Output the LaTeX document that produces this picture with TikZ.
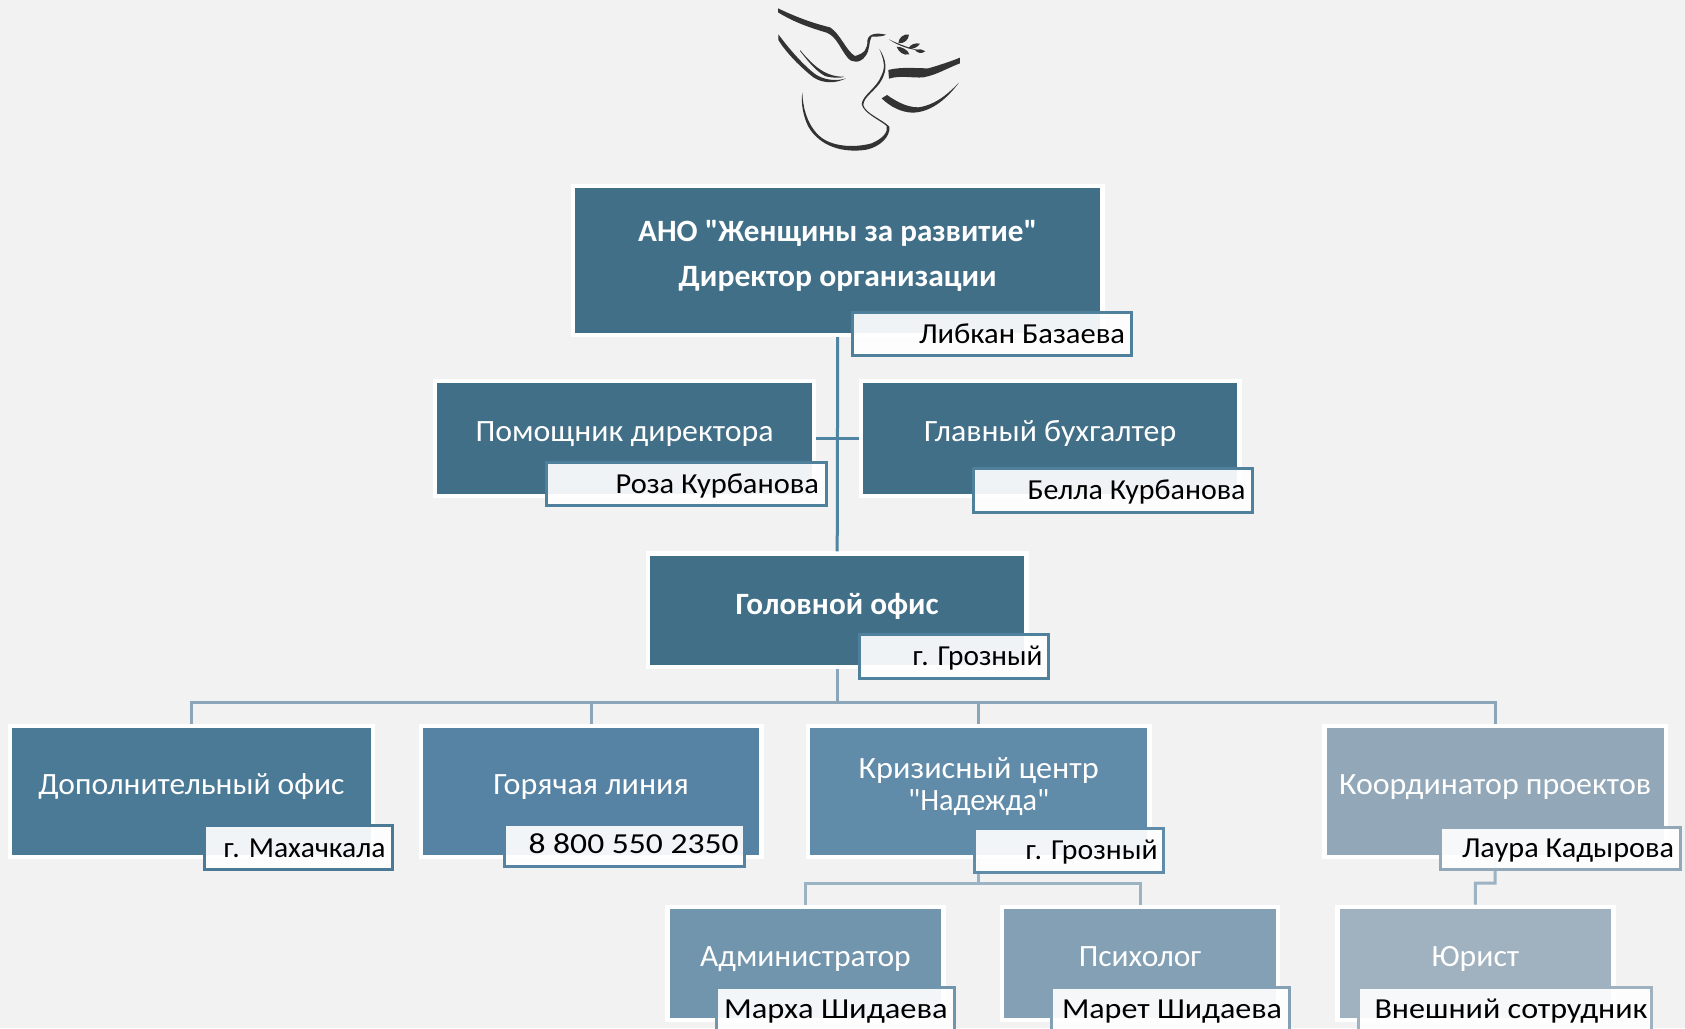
\documentclass[tikz,border=0pt]{standalone}
\usepackage{fontspec}
\usepackage{graphicx}
\newfontfamily\bodyf{Carlito}
\definecolor{bgc}{HTML}{F2F2F2}
\definecolor{cA}{HTML}{416F88}
\definecolor{cB}{HTML}{4B7A97}
\definecolor{cC}{HTML}{5683A3}
\definecolor{cD}{HTML}{608BA9}
\definecolor{cE}{HTML}{92A8B8}
\definecolor{cF}{HTML}{7295AE}
\definecolor{cG}{HTML}{84A0B4}
\definecolor{cH}{HTML}{A0B2C0}
\definecolor{lA}{HTML}{4F809C}
\definecolor{lnA}{HTML}{4F84A3}
\definecolor{lnB}{HTML}{8BA6B8}
\definecolor{lnC}{HTML}{9BB3C3}
\definecolor{ink}{HTML}{333333}
\tikzset{
  boxn/.style={rectangle,draw=white,line width=4.2pt,inner sep=0pt,text=white,font=\bodyf\fontsize{31}{36}\selectfont},
  lab/.style={rectangle,line width=3pt,fill=white,fill opacity=.92,text opacity=1,draw opacity=1,inner sep=0pt,text=black,font=\bodyf\fontsize{29}{34}\selectfont},
  conA/.style={draw=lnA,line width=3pt},
  conB/.style={draw=lnB,line width=3pt},
  conC/.style={draw=lnC,line width=3pt},
  bird/.style={fill=ink,draw=none}
}
\newcommand\fitw[2]{\resizebox{#1pt}{\height}{#2}}
% name x1 y1 x2 y2 colour content
\newcommand\bx[7]{%
  \pgfmathsetmacro\cxx{(#2+#4)/2+0.2}\pgfmathsetmacro\cyy{(#3+#5)/2+0.4}%
  \pgfmathsetmacro\ww{#4-#2+4.4}\pgfmathsetmacro\hh{#5-#3+5}%
  \node[boxn,fill=#6,minimum width=\ww pt,minimum height=\hh pt] (#1) at (\cxx,\cyy) {#7};}
% baseline, width, text: centred line inside a box
\newcommand\cl[3]{\pgfmathsetmacro\rr{\cyy-#1-1}\makebox[0pt]{\raisebox{\rr pt}[0pt][0pt]{\fitw{#2}{#3}}}}
% name x1 y1 x2 y2 colour xright baseline content
\newcommand\lb[9]{%
  \pgfmathsetmacro\cxx{(#2+#4)/2+0.1}\pgfmathsetmacro\cyy{(#3+#5)/2+0.3}%
  \pgfmathsetmacro\ww{#4-#2-1}\pgfmathsetmacro\hh{#5-#3-1.6}%
  \pgfmathsetmacro\dxx{#7+1-\cxx}\pgfmathsetmacro\rr{\cyy-#8-1}%
  \node[lab,draw=#6,minimum width=\ww pt,minimum height=\hh pt] (#1) at (\cxx,\cyy)
    {\raisebox{\rr pt}[0pt][0pt]{\makebox[0pt][l]{\hspace*{\dxx pt}\makebox[0pt][r]{#9}}}};}
\begin{document}
\begin{tikzpicture}[x=1pt,y=-1pt]
\useasboundingbox (0,0) rectangle (1685,1028);
\clip (0,0) rectangle (1685,1028);
\fill[bgc] (0,0) rectangle (1685,1028);
% dove
\begin{scope}[shift={(740,0)},x=0.3333pt,y=-0.3333pt]
\fill[bird] (114,25) .. controls (170,52) and (220,70) .. (270,82) .. controls (300,100) and (320,155) .. (345,168) .. controls (375,160) and (383,145) .. (382,122) .. controls (385,100) and (410,98) .. (438,104) .. controls (430,110) and (410,110) .. (395,110) .. controls (385,125) and (392,150) .. (375,170) .. controls (360,190) and (335,190) .. (322,172) .. controls (300,145) and (290,110) .. (260,98) .. controls (200,80) and (160,65) .. (114,37) -- cycle;
\fill[bird] (115,103) .. controls (150,150) and (190,195) .. (225,222) .. controls (250,240) and (290,245) .. (318,235) .. controls (290,250) and (250,252) .. (220,232) .. controls (180,200) and (140,160) .. (115,120) -- cycle;
\fill[bird] (180,150) .. controls (210,185) and (250,232) .. (312,230) .. controls (312,233) and (280,236) .. (255,228) .. controls (225,212) and (200,178) .. (180,153) -- cycle;
\fill[bird] (418,147) .. controls (440,180) and (442,210) .. (425,240) .. controls (410,270) and (370,290) .. (370,315) .. controls (375,340) and (430,360) .. (448,380) .. controls (452,410) and (420,440) .. (380,449) .. controls (310,460) and (240,440) .. (205,380) .. controls (190,350) and (182,310) .. (187,277) .. controls (188,320) and (200,370) .. (235,405) .. controls (270,440) and (340,445) .. (395,430) .. controls (430,415) and (445,395) .. (440,378) .. controls (420,360) and (370,340) .. (365,312) .. controls (368,285) and (410,265) .. (425,225) .. controls (438,200) and (430,175) .. (418,147) -- cycle;
\fill[bird] (445,210) .. controls (480,200) and (530,205) .. (565,205) .. controls (600,195) and (630,185) .. (660,173) -- (660,190) .. controls (620,205) and (590,225) .. (550,232) .. controls (520,235) and (480,225) .. (447,236) -- cycle;
\fill[bird] (425,295) -- (441,285) .. controls (470,305) and (500,322) .. (535,322) .. controls (590,315) and (630,275) .. (657,248) .. controls (625,290) and (580,335) .. (520,338) .. controls (485,338) and (450,320) .. (425,295) -- cycle;
\fill[bird] (447,118) .. controls (470,130) and (510,145) .. (535,150) .. controls (510,150) and (470,135) .. (447,118) -- cycle;
\fill[bird] (475,130) .. controls (475,115) and (490,100) .. (507,104) .. controls (505,120) and (495,130) .. (475,130) -- cycle;
\fill[bird] (505,145) .. controls (512,133) and (525,128) .. (540,131) .. controls (533,142) and (520,148) .. (505,145) -- cycle;
\fill[bird] (525,150) .. controls (535,146) and (545,147) .. (556,154) .. controls (545,162) and (533,160) .. (525,150) -- cycle;
\fill[bird] (470,140) .. controls (485,140) and (505,150) .. (508,163) .. controls (490,168) and (475,155) .. (470,140) -- cycle;
\end{scope}
% boxes
\bx{dir}{575}{188}{1100}{332}{cA}{\cl{240}{399}{\bfseries АНО "Женщины за развитие"}\cl{285.5}{318}{\bfseries Директор организации}}
\bx{asst}{437}{383}{811.7}{492.7}{cA}{\cl{440}{298}{Помощник директора}}
\bx{acct}{863}{383}{1237}{492.7}{cA}{\cl{440}{252}{Главный бухгалтер}}
\bx{head}{650}{555.5}{1024}{664}{cA}{\cl{613.5}{203}{\bfseries Головной офис}}
\bx{dop}{11.8}{727.7}{370.6}{854}{cB}{\cl{793}{306}{Дополнительный офис}}
\bx{hot}{422.6}{727.7}{759}{854}{cC}{\cl{793}{195.5}{Горячая линия}}
\bx{kriz}{810}{727.7}{1147}{854}{cD}{\cl{777.5}{240}{Кризисный центр}\cl{809}{141}{"Надежда"}}
\bx{koord}{1326.5}{727.7}{1663.4}{854}{cE}{\cl{793}{312}{Координатор проектов}}
\bx{adm}{669.5}{908.7}{941}{1016.7}{cF}{\cl{965.5}{210.6}{Администратор}}
\bx{psy}{1004}{908.7}{1275.7}{1016.7}{cG}{\cl{965.5}{122.5}{Психолог}}
\bx{jur}{1339.5}{908.7}{1611}{1016.7}{cH}{\cl{965.5}{87.5}{Юрист}}
% connectors
\coordinate (bus) at (837.2,702);
\coordinate (busb) at (978.7,883);
\coordinate (busc) at (1495.2,883);
\draw[conA] (dir.south) -- (head.north);
\draw[conA] (asst.east) -- (acct.west);
\draw[conB] (head.south) -- (bus);
\draw[conB] (dop.north) |- (bus);
\draw[conB] (hot.north) |- (bus);
\draw[conB] (kriz.north) |- (bus);
\draw[conB] (koord.north) |- (bus);
\draw[conC] (kriz.south) -- (busb);
\draw[conC] (adm.north) |- (busb);
\draw[conC] (psy.north) |- (busb);
\draw[conC] (koord.south) -- (busc) -| (jur.north);
% labels
\lb{lbaz}{851.7}{311.7}{1131.5}{356}{lA}{1124}{342.7}{\fitw{206}{Либкан Базаева}}
\lb{lroz}{546}{461}{826.5}{506}{lA}{818}{492.7}{\fitw{203.5}{Роза Курбанова}}
\lb{lbel}{972.4}{467}{1252.7}{512.7}{lA}{1244.5}{498}{\fitw{218}{Белла Курбанова}}
\lb{lgrz}{859}{633}{1049}{679}{lA}{1041.5}{664.7}{\fitw{130}{г. Грозный}}
\lb{lmah}{203.5}{824}{392.6}{870}{cB}{384.6}{856}{\fitw{162}{г. Махачкала}}
\lb{ltel}{504}{823}{744.5}{866.7}{cC}{737.6}{852}{\fitw{210}{8 800 550 2350}}
\lb{lgrk}{974}{827.7}{1163.4}{872.7}{cD}{1156.7}{858.7}{\fitw{132}{г. Грозный}}
\lb{llau}{1440}{826}{1681}{870}{cE}{1673}{856}{\fitw{212}{Лаура Кадырова}}
\lb{lmar}{716}{986.7}{954.6}{1040}{cF}{946.7}{1017}{\fitw{223.7}{Марха Шидаева}}
\lb{lmrt}{1050.6}{986.7}{1290}{1040}{cG}{1281}{1017}{\fitw{220}{Марет Шидаева}}
\lb{lvn}{1357.6}{986.7}{1652}{1040}{cH}{1646.5}{1017}{\fitw{273}{Внешний сотрудник}}
\end{tikzpicture}
\end{document}
